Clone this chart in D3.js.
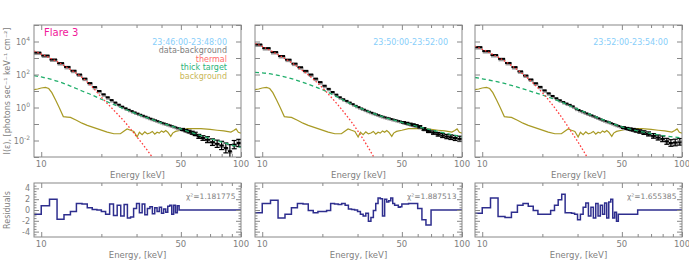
<!DOCTYPE html>
<html>
<head>
<meta charset="utf-8">
<script src="https://cdn.jsdelivr.net/npm/d3@7"></script>
<style>
  body { margin: 0; background: #fff; }
  text { font-family: "DejaVu Sans", sans-serif; }
</style>
</head>
<body>
<div class="chart"></div>
<script>
// energy bins (keV edges), shared by the three time intervals
var binEdges = [9,10,11,12,13,14,15,16,17,18,19,20,21,22,23,24,25,26,27,28,29,30,31,32,33,34,35,36,37,38,39,40,41,42,43,44,45,46,47,48,49,50,
                52,54,56,58,60,63,66,70,74,78,82,86,90,95,100];

var timeRanges = ["23:46:00-23:48:00", "23:50:00-23:52:00", "23:52:00-23:54:00"];
var chiSquared = ["1.181775", "1.887513", "1.655385"];
var xTickLabels = [10, 50, 100];
var xTickMinor = [20, 30, 40, 60, 70, 80, 90];

// data-background, log10 of flux per bin
var dataLog1 = [3.33,3.15,2.91,2.69,2.46,2.23,2.0,1.75,1.48,1.24,1.0,0.8,0.62,0.45,0.3,0.17,0.05,-0.05,-0.14,-0.22,-0.3,
                -0.37,-0.44,-0.5,-0.56,-0.62,-0.68,-0.73,-0.78,-0.83,-0.88,-0.93,-0.97,-1.01,-1.05,-1.09,-1.13,-1.17,-1.21,-1.25,-1.28,
                -1.33,-1.4,-1.46,-1.53,-1.6,-1.75,-1.85,-1.95,-2.1,-2.2,-2.3,-2.45,-2.65,-2.25,-2.15];
var dataLog2 = [3.82,3.6,3.36,3.12,2.9,2.66,2.44,2.22,2.0,1.75,1.54,1.32,1.13,0.94,0.78,0.62,0.5,0.4,0.3,0.2,0.1,
                0.02,-0.06,-0.13,-0.2,-0.26,-0.32,-0.37,-0.42,-0.47,-0.52,-0.56,-0.6,-0.63,-0.66,-0.7,-0.73,-0.76,-0.79,-0.82,-0.85,
                -0.9,-0.95,-1.0,-1.05,-1.1,-1.17,-1.3,-1.42,-1.52,-1.62,-1.7,-1.76,-1.8,-1.85,-1.9];
var dataLog3 = [3.66,3.42,3.18,2.95,2.7,2.45,2.19,1.94,1.7,1.47,1.25,1.04,0.86,0.7,0.56,0.44,0.33,0.24,0.16,0.07,-0.07,
                -0.15,-0.22,-0.29,-0.36,-0.42,-0.48,-0.54,-0.6,-0.66,-0.72,-0.77,-0.82,-0.86,-0.9,-0.95,-1.0,-1.04,-1.08,-1.12,-1.16,
                -1.22,-1.27,-1.31,-1.35,-1.4,-1.45,-1.52,-1.6,-1.72,-1.82,-1.9,-2.05,-2.15,-2.12,-2.08];

// error half-widths (log10) for the bins above 50 keV
var errHigh1 = [0.06,0.07,0.08,0.09,0.1,0.12,0.14,0.18,0.2,0.22,0.25,0.3,0.4,0.25,0.22];
var errHigh2 = [0.04,0.05,0.05,0.06,0.06,0.07,0.08,0.09,0.1,0.11,0.12,0.13,0.14,0.15,0.16];
var errHigh3 = [0.05,0.06,0.07,0.08,0.09,0.1,0.11,0.12,0.14,0.15,0.17,0.18,0.2,0.2,0.2];

// thermal model (log10)
var thermalE = [9.2,10,12,14,16,18,20,22,24,26,28,30,32,34,36,38];
var thermalLog1 = [3.42,3.24,2.78,2.3,1.82,1.25,0.62,0.1,-0.38,-0.83,-1.3,-1.75,-2.18,-2.6,-3.02,-3.42];
var thermalLog2 = [3.9,3.7,3.2,2.72,2.22,1.72,1.2,0.66,0.14,-0.38,-0.88,-1.4,-1.92,-2.44,-2.96,-3.48];
var thermalLog3 = [3.72,3.53,3.05,2.55,2.02,1.47,0.9,0.3,-0.3,-0.9,-1.5,-2.05,-2.6,-3.15,-3.7,-4.25];

// thick target model (log10)
var thickE = [9.2,10,12,14,16,18,20,25,30,35,40,50,60,70,80,90,100];
var thickLog1 = [1.93,1.85,1.6,1.3,1.0,0.75,0.5,0.0,-0.38,-0.68,-0.93,-1.3,-1.62,-1.88,-2.1,-2.28,-2.42];
var thickLog2 = [2.13,2.1,1.95,1.75,1.52,1.3,1.08,0.5,0.03,-0.3,-0.55,-0.9,-1.15,-1.36,-1.52,-1.66,-1.79];
var thickLog3 = [1.82,1.74,1.55,1.34,1.13,0.93,0.76,0.32,-0.1,-0.44,-0.73,-1.17,-1.42,-1.58,-1.7,-1.78,-1.84];

// background (same for all intervals, log10)
var bkgE = [9.2,9.6,10.0,10.5,10.9,11.3,11.8,12.3,12.9,13.5,14,15,16,17,19,21.4,23.1,24.9,25.8,26.9,28,29.1,30.2,31,32,
            33,34,35,36,37,38,39,40,41,42,43,44.5,45.5,47,50,54,58,63,70,76,82,89,92,94.5,97,100];
var bkgLog = [1.08,1.12,1.18,1.22,1.15,0.9,0.45,0.0,-0.55,-0.58,-0.6,-0.77,-0.95,-1.08,-1.28,-1.49,-1.59,-1.59,-1.45,-1.3,
              -1.38,-1.45,-1.79,-1.5,-1.65,-1.48,-1.6,-1.55,-1.45,-1.62,-1.5,-1.55,-1.42,-1.5,-1.4,-1.5,-1.75,-1.55,-1.45,-1.38,
              -1.28,-1.28,-1.28,-1.33,-1.38,-1.42,-1.49,-1.4,-1.3,-1.5,-1.55];

// normalised residuals per bin
var resid1 = [-0.8,0.8,2.0,-1.7,-0.9,-0.3,1.2,1.1,0.4,0.1,0.0,-0.3,-0.8,1.1,-1.0,0.9,-1.1,1.0,-1.5,-1.3,0.3,
              1.2,-0.5,1.1,-0.9,0.3,0.6,-0.7,0.4,-0.3,0.5,-0.6,0.2,-0.4,0.7,0.9,-0.8,0.9,-0.5,0.8,0.0,
              0,0,0,0,0,0,0,0,0,0,0,0,0,0,0];
var resid2 = [-0.5,1.2,1.8,-1.5,-0.8,0.4,1.2,1.1,-0.1,-0.5,-0.3,-0.3,-0.1,1.2,1.1,1.0,1.2,0.9,0.2,0.1,0.0,
              -0.3,-0.8,-1.1,-0.6,-2.1,-1.4,-0.1,1.2,2.2,2.1,-1.1,2.0,1.5,1.7,2.2,1.2,0.9,0.9,0.5,0.6,
              1.1,1.1,1.2,1.2,1.2,0.3,-1.8,-2.8,0,0,0,0,0,0,0];
var resid3 = [-0.6,0.4,2.2,-1.2,-1.4,-0.4,0.9,1.2,0.7,-0.1,-0.8,-0.8,-0.8,-0.1,0.9,1.9,2.9,-0.5,-0.5,-0.6,-0.8,
              -1.8,-0.8,0.5,1.3,-1.1,0.5,-1.5,1.2,-1.1,0.9,-0.8,1.3,-1.5,1.5,2.0,-1.5,-0.4,-2.1,-0.8,-0.8,
              -0.8,-0.8,-0.8,-0.8,-0.8,0,0,0,0,0,0,0,0,0,0];

var dataLogs = [dataLog1, dataLog2, dataLog3];
var errHighs = [errHigh1, errHigh2, errHigh3];
var thermalLogs = [thermalLog1, thermalLog2, thermalLog3];
var thickLogs = [thickLog1, thickLog2, thickLog3];
var resids = [resid1, resid2, resid3];

// layout
var panelLeft = [34, 255, 475], panelW = 207;
var topY = 25, topH = 132, resY = 183, resH = 54;
var axisCol = "#888", textCol = "#808080";

var x = d3.scaleLog().domain([9.2, 100]).range([0, panelW]);
var y = d3.scaleLog().domain([1e-3, 1e5]).range([topH, 0]);
var yr = d3.scaleLinear().domain([-5, 5]).range([resH, 0]);

var svg = d3.select(".chart").append("svg")
    .attr("width", 689)
    .attr("height", 262);

var defs = svg.append("defs");
defs.append("clipPath").attr("id", "clipTop")
    .append("rect").attr("width", panelW).attr("height", topH);
defs.append("clipPath").attr("id", "clipRes")
    .append("rect").attr("width", panelW).attr("height", resH);

var pow10 = function(v) { return Math.pow(10, v); };
var nBins = binEdges.length - 1;
var nLow = 41; // bins below 50 keV

// draws ticks on all four sides plus the box
function drawBox(g, h, yScale, yMajor, yMinor) {
    var ax = function(a) {
        a.select(".domain").remove();
        a.selectAll("line").attr("stroke", axisCol);
    };
    g.append("g").attr("transform", "translate(0," + h + ")")
        .call(d3.axisBottom(x).tickValues(xTickMinor).tickSize(-3).tickFormat("")).call(ax);
    g.append("g").attr("transform", "translate(0," + h + ")")
        .call(d3.axisBottom(x).tickValues(xTickLabels).tickSize(-5).tickFormat("")).call(ax);
    g.append("g")
        .call(d3.axisTop(x).tickValues(xTickMinor).tickSize(-3).tickFormat("")).call(ax);
    g.append("g")
        .call(d3.axisTop(x).tickValues(xTickLabels).tickSize(-5).tickFormat("")).call(ax);
    g.append("g").call(d3.axisLeft(yScale).tickValues(yMajor).tickSize(-5).tickFormat("")).call(ax);
    g.append("g").attr("transform", "translate(" + panelW + ",0)")
        .call(d3.axisRight(yScale).tickValues(yMajor).tickSize(-5).tickFormat("")).call(ax);
    if (yMinor) {
        g.append("g").call(d3.axisLeft(yScale).tickValues(yMinor).tickSize(-2.5).tickFormat("")).call(ax);
        g.append("g").attr("transform", "translate(" + panelW + ",0)")
            .call(d3.axisRight(yScale).tickValues(yMinor).tickSize(-2.5).tickFormat("")).call(ax);
    }
    g.append("rect").attr("width", panelW).attr("height", h)
        .attr("fill", "none").attr("stroke", axisCol).attr("stroke-width", 1);
}

function xLabels(g, h, title) {
    g.selectAll(".xl").data(xTickLabels).enter().append("text")
        .attr("x", function(d) { return x(d); })
        .attr("y", h + 10)
        .attr("text-anchor", "middle")
        .attr("font-size", 8.5)
        .attr("fill", textCol)
        .text(function(d) { return d; });
    g.append("text")
        .attr("x", panelW / 2).attr("y", h + 21)
        .attr("text-anchor", "middle")
        .attr("font-size", 8.5)
        .attr("fill", textCol)
        .text(title);
}

var decades = [1e-3, 1e-2, 1e-1, 1e0, 1e1, 1e2, 1e3, 1e4, 1e5];
var resMajor = [-4, -2, 0, 2, 4];
var resMinor = [-4.5,-3.5,-3,-2.5,-1.5,-1,-0.5,0.5,1,1.5,2.5,3,3.5,4.5];

var linePlain = d3.line()
    .x(function(d) { return x(d[0]); })
    .y(function(d) { return y(pow10(d[1])); });
var lineSmooth = d3.line()
    .x(function(d) { return x(d[0]); })
    .y(function(d) { return y(pow10(d[1])); })
    .curve(d3.curveMonotoneX);

panelLeft.forEach(function(left, p) {
    // ---------- spectrum plot ----------
    var g = svg.append("g").attr("transform", "translate(" + left + "," + topY + ")");
    var plot = g.append("g").attr("clip-path", "url(#clipTop)");

    // background
    plot.append("path")
        .datum(d3.zip(bkgE, bkgLog))
        .attr("d", linePlain)
        .attr("fill", "none").attr("stroke", "#a89a24").attr("stroke-width", 1.2);

    // data bins
    var bins = d3.range(nBins).map(function(i) {
        return { i: i, lo: binEdges[i], hi: binEdges[i + 1], v: dataLogs[p][i],
                 e: i >= nLow ? errHighs[p][i - nLow] : 0 };
    });
    plot.selectAll(".halo").data(bins).enter().append("line")
        .attr("x1", function(d) { return x(d.lo) + 0.5; })
        .attr("x2", function(d) { return x(d.hi) + 0.5; })
        .attr("y1", function(d) { return y(pow10(d.v)) + 1; })
        .attr("y2", function(d) { return y(pow10(d.v)) + 1; })
        .attr("stroke", "#999").attr("stroke-width", 3);
    plot.selectAll(".bar").data(bins).enter().append("line")
        .attr("x1", function(d) { return x(d.lo); })
        .attr("x2", function(d) { return x(d.hi); })
        .attr("y1", function(d) { return y(pow10(d.v)); })
        .attr("y2", function(d) { return y(pow10(d.v)); })
        .attr("stroke", "#000").attr("stroke-width", 2);
    var hiBins = bins.filter(function(d) { return d.i >= nLow; });
    var xc = function(d) { return x(Math.sqrt(d.lo * d.hi)); };
    plot.selectAll(".err").data(hiBins).enter().append("line")
        .attr("x1", xc).attr("x2", xc)
        .attr("y1", function(d) { return y(pow10(d.v + d.e)); })
        .attr("y2", function(d) { return y(pow10(d.v - d.e)); })
        .attr("stroke", "#000").attr("stroke-width", 1.2);
    [1, -1].forEach(function(s) {
        plot.selectAll(".cap").data(hiBins).enter().append("line")
            .attr("x1", function(d) { return xc(d) - 2.5; })
            .attr("x2", function(d) { return xc(d) + 2.5; })
            .attr("y1", function(d) { return y(pow10(d.v + s * d.e)); })
            .attr("y2", function(d) { return y(pow10(d.v + s * d.e)); })
            .attr("stroke", "#000").attr("stroke-width", 1.2);
    });

    // thick target
    plot.append("path")
        .datum(d3.zip(thickE, thickLogs[p]))
        .attr("d", lineSmooth)
        .attr("fill", "none").attr("stroke", "#1fae6a").attr("stroke-width", 1.3)
        .attr("stroke-dasharray", "4,3");
    // thermal
    plot.append("path")
        .datum(d3.zip(thermalE, thermalLogs[p]))
        .attr("d", lineSmooth)
        .attr("fill", "none").attr("stroke", "#ff3b3b").attr("stroke-width", 1.3)
        .attr("stroke-dasharray", "1.6,2");

    drawBox(g, topH, y, decades, null);
    xLabels(g, topH, "Energy [keV]");

    // time range label
    g.append("text")
        .attr("x", panelW - 14).attr("y", 19.7)
        .attr("text-anchor", "end").attr("font-size", 8)
        .attr("fill", "#87cefa")
        .text(timeRanges[p]);

    // ---------- residual plot ----------
    var gr = svg.append("g").attr("transform", "translate(" + left + "," + resY + ")");
    var rplot = gr.append("g").attr("clip-path", "url(#clipRes)");
    var steps = resids[p].map(function(v, i) { return [binEdges[i], v]; });
    steps.push([binEdges[nBins], resids[p][nBins - 1]]);
    rplot.append("path")
        .datum(steps)
        .attr("d", d3.line()
            .x(function(d) { return x(d[0]); })
            .y(function(d) { return yr(d[1]); })
            .curve(d3.curveStepAfter))
        .attr("fill", "none").attr("stroke", "#2e2e8e").attr("stroke-width", 1.5);

    drawBox(gr, resH, yr, resMajor, resMinor);
    xLabels(gr, resH, "Energy, [keV]");

    gr.append("text")
        .attr("x", 152).attr("y", 16)
        .attr("font-size", 7.5).attr("fill", textCol)
        .text("\u03c7\u00b2=" + chiSquared[p]);

    if (p === 0) {
        // y tick labels, powers of ten
        var lab = g.selectAll(".yl").data([1e-2, 1e0, 1e2, 1e4]).enter().append("text")
            .attr("x", -4).attr("y", function(d) { return y(d) + 3; })
            .attr("text-anchor", "end").attr("font-size", 8).attr("fill", textCol);
        lab.append("tspan").text("10");
        lab.append("tspan").attr("dy", -4).attr("font-size", 6)
            .text(function(d) { return Math.round(Math.log10(d)); });

        gr.selectAll(".yl").data(resMajor).enter().append("text")
            .attr("x", -4).attr("y", function(d) { return yr(d) + 3; })
            .attr("text-anchor", "end").attr("font-size", 8).attr("fill", textCol)
            .text(function(d) { return d; });

        // legend
        var legend = [
            ["data-background", "#808080"],
            ["thermal", "#ff6b6b"],
            ["thick target", "#2bb37a"],
            ["background", "#c9b75a"]
        ];
        g.selectAll(".leg").data(legend).enter().append("text")
            .attr("x", panelW - 14)
            .attr("y", function(d, i) { return 28.2 + i * 8.5; })
            .attr("text-anchor", "end").attr("font-size", 8)
            .attr("fill", function(d) { return d[1]; })
            .text(function(d) { return d[0]; });

        g.append("text")
            .attr("x", 10).attr("y", 10.5)
            .attr("font-size", 10).attr("fill", "#f0189a")
            .text("Flare 3");
    }
});

// axis titles
svg.append("text")
    .attr("transform", "translate(10,91) rotate(-90)")
    .attr("text-anchor", "middle").attr("font-size", 8).attr("fill", textCol)
    .text("I(\u03b5), [photons sec\u207b\u00b9 keV\u207b\u00b9 cm\u207b\u00b2]");
svg.append("text")
    .attr("transform", "translate(10,210) rotate(-90)")
    .attr("text-anchor", "middle").attr("font-size", 8).attr("fill", textCol)
    .text("Residuals");
</script>
</body>
</html>
